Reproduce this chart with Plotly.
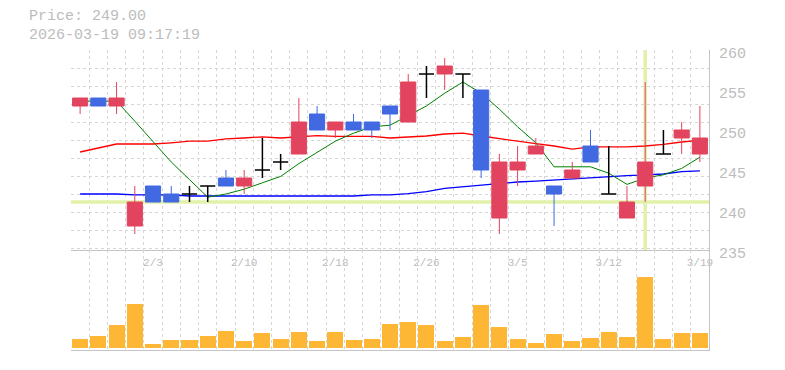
import plotly.graph_objects as go

# ---------------- data ----------------
dates = ["1/28", "1/29", "1/30", "2/2", "2/3", "2/4", "2/5", "2/6", "2/9", "2/10",
         "2/12", "2/13", "2/16", "2/17", "2/18", "2/19", "2/20", "2/24", "2/25", "2/26",
         "2/27", "3/2", "3/3", "3/4", "3/5", "3/6", "3/9", "3/10", "3/11", "3/12",
         "3/13", "3/16", "3/17", "3/18", "3/19"]
open_ = [253, 254, 253, 238, 243, 242, 242, 243, 244, 243, 245, 246, 247, 252, 250, 251, 251, 253,
         251, 257, 257, 257, 255, 239, 245, 247, 243, 244, 248, 242, 239, 243, 247, 249, 247]
high = [254, 254, 256, 243, 243, 243, 243, 243, 245, 245, 249, 247, 254, 253, 251, 252, 251, 253,
        257, 258, 259, 257, 255, 247, 248, 249, 243, 246, 250, 248, 243, 256, 250, 251, 253]
low = [252, 253, 252, 237, 241, 241, 241, 241, 243, 242, 244, 245, 247, 250, 249, 250, 249, 250,
       251, 254, 255, 254, 244, 237, 243, 247, 238, 244, 246, 242, 239, 241, 247, 247, 246]
close = [254, 253, 254, 241, 241, 241, 242, 243, 243, 244, 245, 246, 251, 250, 251, 250, 250, 252,
         256, 257, 258, 257, 245, 246, 246, 248, 242, 245, 246, 242, 241, 246, 247, 250, 249]
ma5 = [253.6, 253.6, 253.6, 251.1, 248.6, 246.0, 243.8, 241.6, 242.0, 242.6, 243.4, 244.2, 245.8,
       247.2, 248.6, 249.6, 250.4, 250.6, 251.8, 253.0, 254.6, 256.0, 254.6, 252.6, 250.4, 248.4,
       245.4, 245.4, 245.4, 244.6, 243.2, 244.0, 244.4, 245.2, 246.6]
ma25 = [247.25, 247.75, 248.25, 248.25, 248.25, 248.4, 248.6, 248.6, 248.9, 249.0, 249.15, 249.0,
        249.15, 249.3, 249.2, 249.2, 249.2, 249.0, 249.15, 249.25, 249.5, 249.6, 249.25, 248.9,
        248.6, 248.3, 248.0, 247.6, 247.9, 247.9, 247.9, 248.0, 248.2, 248.5, 248.7]
ma75 = [242.0, 242.0, 242.0, 241.9, 241.9, 241.9, 241.75, 241.75, 241.75, 241.75, 241.75, 241.75,
        241.75, 241.75, 241.75, 241.75, 241.9, 241.9, 242.05, 242.3, 242.7, 242.9, 243.1, 243.25,
        243.5, 243.6, 243.75, 243.9, 244.0, 244.2, 244.3, 244.4, 244.5, 244.8, 244.9]
volume = [9300, 12300, 23300, 44700, 4300, 8300, 8300, 12300, 17300, 7300, 15300, 9300, 16300,
          7300, 16300, 8300, 9300, 24300, 26300, 23300, 7300, 11300, 43300, 21300, 9300, 5300,
          14300, 7300, 10300, 16300, 11300, 71300, 9300, 15300, 15300]
tick_labels = ["2/3", "2/10", "2/18", "2/26", "3/5", "3/12", "3/19"]
price_ticks = [235, 240, 245, 250, 255, 260]
last_price = 249.00
timestamp = "2026-03-19 09:17:19"
cross_date = "3/16"
cross_price = 241.0

# ---------------- styles ----------------
RED = "#e2445f"
BLUE = "#4169e1"
ORANGE = "#fdb735"
GRID = "#d6d6d6"
AXIS = "#c4c4c4"
LABEL = "#bcbcbc"
CROSS = "#e2f1aa"
FONT = "Liberation Mono"

x = list(range(len(dates)))
tick_pos = [dates.index(d) for d in tick_labels]
body = [i for i in x if open_[i] != close[i]]
doji = [i for i in x if open_[i] == close[i]]

fig = go.Figure()

# moving averages (main price subplot, drawn beneath the candles)
fig.add_trace(go.Scatter(x=x, y=ma75, mode="lines", line=dict(color="#0000ff", width=1.3),
                         xaxis="x", yaxis="y", hoverinfo="skip"))
fig.add_trace(go.Scatter(x=x, y=ma25, mode="lines", line=dict(color="#ff0000", width=1.3),
                         xaxis="x", yaxis="y", hoverinfo="skip"))
fig.add_trace(go.Scatter(x=x, y=ma5, mode="lines", line=dict(color="#008000", width=1),
                         xaxis="x", yaxis="y", hoverinfo="skip"))

# candles on an overlaying axis so they sit on top of the lines
fig.add_trace(go.Candlestick(
    x=body, open=[open_[i] for i in body], high=[high[i] for i in body],
    low=[low[i] for i in body], close=[close[i] for i in body],
    increasing=dict(line=dict(color=RED, width=1), fillcolor=RED),
    decreasing=dict(line=dict(color=BLUE, width=1), fillcolor=BLUE),
    whiskerwidth=0, xaxis="x", yaxis="y3", hoverinfo="skip"))
fig.add_trace(go.Candlestick(
    x=doji, open=[open_[i] for i in doji], high=[high[i] for i in doji],
    low=[low[i] for i in doji], close=[close[i] for i in doji],
    increasing=dict(line=dict(color="#000000", width=1.5), fillcolor="#000000"),
    decreasing=dict(line=dict(color="#000000", width=1.5), fillcolor="#000000"),
    whiskerwidth=0, xaxis="x", yaxis="y3", hoverinfo="skip"))

# volume
fig.add_trace(go.Bar(x=x, y=volume, xaxis="x2", yaxis="y2", width=0.88,
                     marker=dict(color=ORANGE, line=dict(width=0)), hoverinfo="skip"))

xr = [-0.5, len(dates) - 0.5]
yr = [min(price_ticks), max(price_ticks)]
vmax = max(volume)
vol_range = [-vmax * 1.7 / 71.3, vmax * 98.3 / 71.3]

minor_x = dict(tick0=0.5, dtick=1, showgrid=True, gridcolor=GRID, griddash="3px,3px", gridwidth=1)

# the page body has an 8px margin: the figure is sized so the page fits the window
fig.update_layout(
    template="none",
    width=769, height=354,
    margin=dict(l=63, r=68, t=42, b=12, autoexpand=False),
    paper_bgcolor="white", plot_bgcolor="white",
    showlegend=False, hovermode=False,
    boxmode="overlay", boxgap=0.17, boxgroupgap=0,
    bargap=0,
    xaxis=dict(range=xr, anchor="y", domain=[0, 1], tickmode="array", tickvals=tick_pos,
               ticktext=tick_labels, showgrid=False, zeroline=False, ticks="",
               automargin=False,
               showline=True, linecolor=AXIS, linewidth=1, ticklabelstandoff=2,
               tickfont=dict(family=FONT, size=11, color=LABEL),
               minor=minor_x, rangeslider=dict(visible=False)),
    yaxis=dict(range=yr, domain=[1 / 3, 1], anchor="x", side="right", tickmode="array",
               tickvals=price_ticks, ticktext=[str(v) for v in price_ticks],
               showgrid=False, zeroline=False, ticks="", showline=True, linecolor=AXIS,
               linewidth=1, ticklabelstandoff=6, ticklabelshift=3, automargin=False,
               tickfont=dict(family=FONT, size=15, color=LABEL),
               minor=dict(tick0=max(price_ticks) - 0.01, dtick=2.25, showgrid=True,
                          gridcolor=GRID, griddash="3px,3px", gridwidth=1)),
    yaxis3=dict(range=yr, overlaying="y", anchor="x", visible=False, showgrid=False,
                automargin=False),
    xaxis2=dict(range=xr, matches="x", anchor="y2", showticklabels=False, showgrid=False,
                zeroline=False, ticks="", showline=True, linecolor=AXIS, linewidth=1,
                automargin=False, minor=minor_x, rangeslider=dict(visible=False)),
    yaxis2=dict(range=vol_range, domain=[0, 1 / 3], anchor="x2", side="right",
                showticklabels=False, showgrid=False, zeroline=False, ticks="",
                automargin=False, showline=True, linecolor=AXIS, linewidth=1),
)

# crosshair
ci = dates.index(cross_date)
fig.add_shape(type="line", xref="x", yref="y", x0=ci, x1=ci, y0=yr[0], y1=yr[1],
              line=dict(color=CROSS, width=3.5), layer="between")
fig.add_shape(type="line", xref="x", yref="y", x0=xr[0], x1=xr[1], y0=cross_price,
              y1=cross_price, line=dict(color=CROSS, width=3.5), layer="between")

# header text (two lines meeting at the same boundary so the boxes do not overlap)
hx = (28 - 71) / 638
hy = 1 + (50 - 25.5) / 300
fig.add_annotation(text=f"Price: {last_price:.2f}", xref="paper", yref="paper",
                   x=hx, y=hy, xanchor="left", yanchor="bottom", borderpad=0,
                   showarrow=False, font=dict(family=FONT, size=15, color=LABEL))
fig.add_annotation(text=timestamp, xref="paper", yref="paper",
                   x=hx, y=hy, xanchor="left", yanchor="top", borderpad=0,
                   showarrow=False, font=dict(family=FONT, size=15, color=LABEL))

fig.write_html("out.html")
